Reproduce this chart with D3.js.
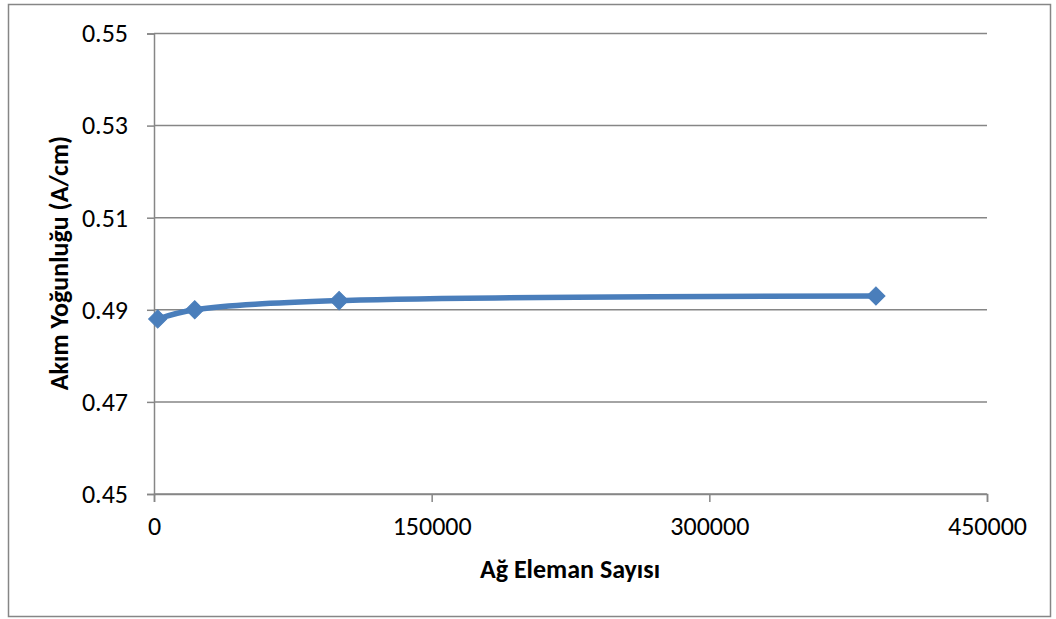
<!DOCTYPE html>
<html>
<head>
<meta charset="utf-8">
<script src="https://cdn.jsdelivr.net/npm/d3@7"></script>
<style>
  html, body { margin: 0; padding: 0; background: #fff; }
  svg { display: block; }
  text { font-family: Carlito, Calibri, Lato, "Open Sans", sans-serif; fill: #000; }
</style>
</head>
<body>
<svg id="chart" width="1056" height="619"></svg>
<script>
// Mesh element count vs. current density
const elementCounts = [2000, 22000, 100000, 390000];
const currentDensity = [0.488, 0.490, 0.492, 0.493];
const xTicks = [0, 150000, 300000, 450000];
const yTicks = [0.45, 0.47, 0.49, 0.51, 0.53, 0.55];
const xTitle = "Ağ Eleman Sayısı";
const yTitle = "Akım Yoğunluğu (A/cm)";

const svg = d3.select("#chart");
const W = 1056, H = 619;
const plot = { left: 154, right: 987, top: 33.5, bottom: 494 };
const FONT = "Carlito, Calibri, Lato, sans-serif";

// Outer chart border
svg.append("rect")
  .attr("x", 8.5).attr("y", 4.5)
  .attr("width", W - 14).attr("height", H - 7)
  .attr("fill", "#fff").attr("stroke", "#868686").attr("stroke-width", 1.5);

const x = d3.scaleLinear().domain([0, 450000]).range([plot.left, plot.right]);
const y = d3.scaleLinear().domain([0.45, 0.55]).range([plot.bottom, plot.top]);

// Horizontal gridlines
svg.append("g")
  .selectAll("line")
  .data(yTicks)
  .join("line")
  .attr("x1", plot.left).attr("x2", plot.right)
  .attr("y1", d => y(d)).attr("y2", d => y(d))
  .attr("stroke", "#868686").attr("stroke-width", 1.5);

// Y axis
const yAxis = svg.append("g")
  .attr("transform", `translate(${plot.left},0)`)
  .call(d3.axisLeft(y).tickValues(yTicks).tickFormat(d3.format(".2f")).tickSize(7).tickPadding(19));
yAxis.select(".domain").attr("stroke", "#868686").attr("stroke-width", 1.5);
yAxis.selectAll(".tick line").attr("stroke", "#868686").attr("stroke-width", 1.5);
yAxis.selectAll(".tick text").style("font-size", "26px").style("fill", "#000")
  .style("font-family", FONT);

// X axis
const xAxis = svg.append("g")
  .attr("transform", `translate(0,${plot.bottom})`)
  .call(d3.axisBottom(x).tickValues(xTicks).tickFormat(d3.format("d")).tickSize(8).tickPadding(15));
xAxis.select(".domain").attr("stroke", "#868686").attr("stroke-width", 1.5);
xAxis.selectAll(".tick line").attr("stroke", "#868686").attr("stroke-width", 1.5);
xAxis.selectAll(".tick text").style("font-size", "26px").style("fill", "#000")
  .style("font-family", FONT);

// Axis titles
svg.append("text")
  .attr("x", 570).attr("y", 578)
  .attr("text-anchor", "middle")
  .style("font-size", "26px").style("font-weight", "bold")
  .text(xTitle);

svg.append("text")
  .attr("transform", `translate(68,263) rotate(-90)`)
  .attr("text-anchor", "middle")
  .style("font-size", "26px").style("font-weight", "bold")
  .text(yTitle);

// Smoothed series line
const pts = elementCounts.map((c, i) => [c, currentDensity[i]]);
const line = d3.line()
  .x(d => x(d[0])).y(d => y(d[1]))
  .curve(d3.curveCatmullRom.alpha(0.5));

svg.append("path")
  .datum(pts)
  .attr("d", line)
  .attr("fill", "none")
  .attr("stroke", "#4A7EBB")
  .attr("stroke-width", 5.5)
  .attr("stroke-linejoin", "round")
  .attr("stroke-linecap", "round");

// Diamond markers
svg.append("g")
  .selectAll("path")
  .data(pts)
  .join("path")
  .attr("transform", d => `translate(${x(d[0])},${y(d[1])}) rotate(45)`)
  .attr("d", d3.symbol().type(d3.symbolSquare).size(165))
  .attr("fill", "#4A7EBB")
  .attr("stroke", "#4A7EBB")
  .attr("stroke-width", 1);
</script>
</body>
</html>
